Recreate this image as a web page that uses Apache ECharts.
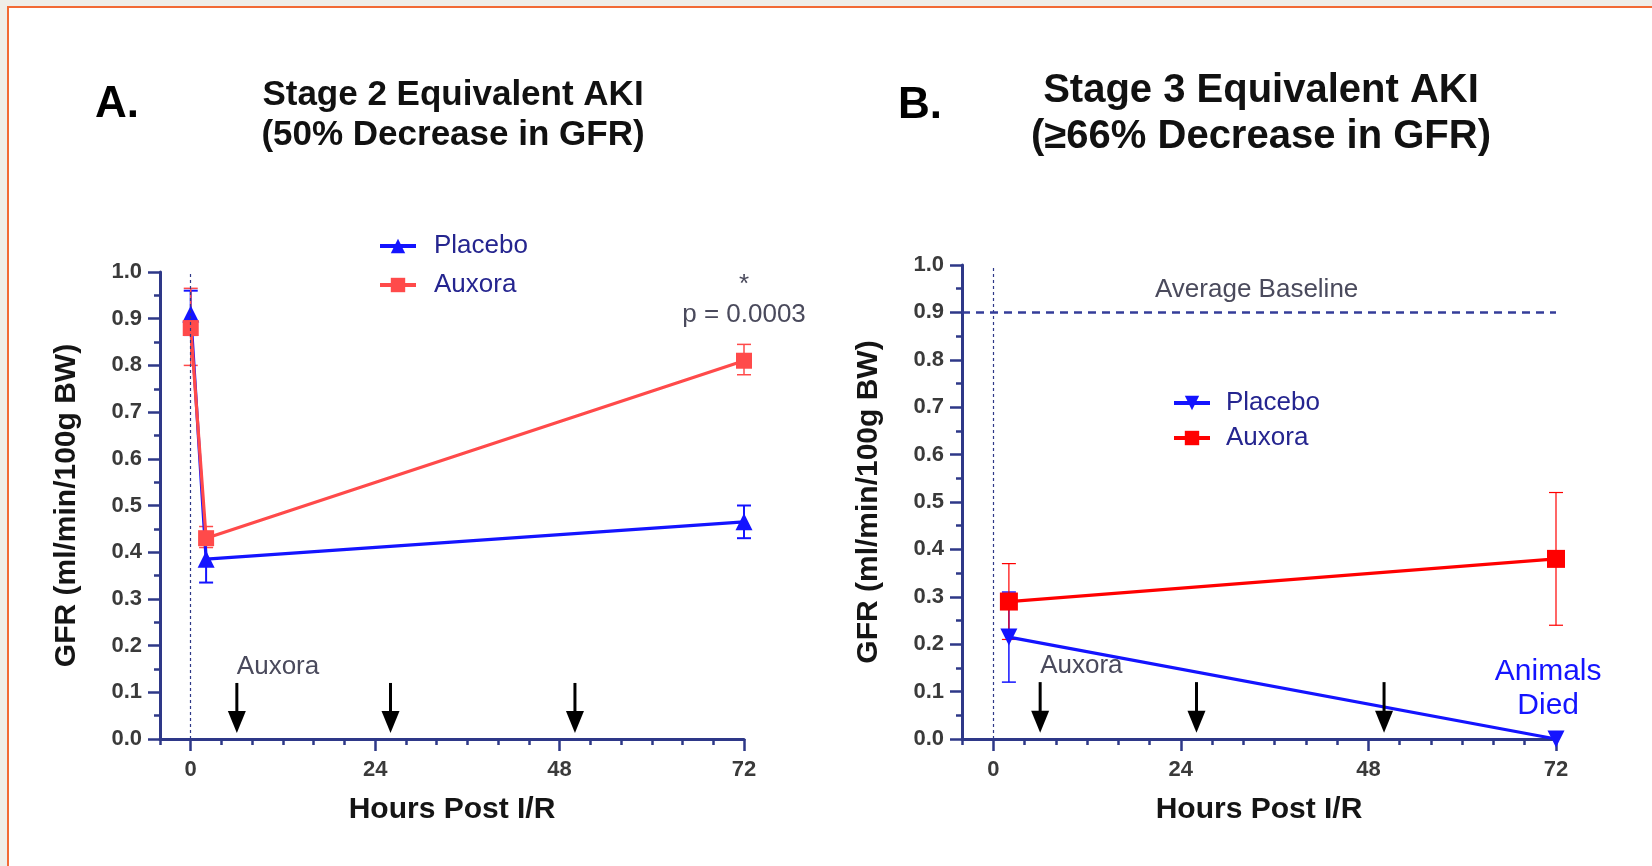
<!DOCTYPE html>
<html>
<head>
<meta charset="utf-8">
<title>GFR after I/R</title>
<script src="https://cdn.jsdelivr.net/npm/echarts@6/dist/echarts.min.js"></script>
<style>
  html, body { margin: 0; padding: 0; background: #efeee9; }
  #frame { position: absolute; left: 7px; top: 6px; width: 1645px; height: 860px; background: #fff;
           border-left: 2px solid #f26a35; border-top: 2px solid #f26a35; box-sizing: border-box; }
  #main { position: absolute; left: 0; top: 0; width: 1652px; height: 866px; }
</style>
</head>
<body>
<div id="frame"></div>
<div id="main"></div>
<script>
// panel A: stage 2 equivalent AKI
const hoursA = [0, 2, 72];
const placeboA = [0.91, 0.385, 0.465];
const placeboA_lo = [0.865, 0.335, 0.43];
const placeboA_hi = [0.96, 0.43, 0.50];
const auxoraA = [0.88, 0.43, 0.81];
const auxoraA_lo = [0.80, 0.41, 0.78];
const auxoraA_hi = [0.965, 0.455, 0.845];

// panel B: stage 3 equivalent AKI
const hoursB = [2, 72];
const placeboB = [0.215, 0];
const placeboB_lo = [0.12, null];
const placeboB_hi = [0.31, null];
const auxoraB = [0.29, 0.38];
const auxoraB_lo = [0.21, 0.24];
const auxoraB_hi = [0.37, 0.52];
const baselineB = 0.9;

// axes + dosing arrows
const xTicks = [0, 24, 48, 72];
const doseHours = [6, 26, 50];
const arrowTop = 0.12;
const arrowTip = 0.013;

// annotations (data coords)
const doseLabel = 'Auxora';
const doseLabelX = 6;
const doseLabelY = 0.155;
const pText = ['p = 0.0003', '*'];
const pX = [72, 72];
const pY = [0.909, 0.972];
const baseText = ['Average Baseline'];
const baseX = [33.7];
const baseY = [0.947];
const diedText = ['Animals\nDied'];
const diedX = [71];
const diedY = [0.105];

const FONT = '"Liberation Sans", Arial, sans-serif';
const AXIS = '#2e3888';
const BLUE = '#1414ff';
const RED_A = '#ff4a4a';
const RED_B = '#ff0000';
const NOTE = '#4a4a5c';

function pts(xs, ys) { return xs.map((x, i) => [x, ys[i]]); }
function bars(xs, lo, hi) {
  return xs.map((x, i) => [x, lo[i], hi[i]]).filter(d => d[1] != null);
}

function errorBar(color, width) {
  return function (params, api) {
    const x = api.value(0);
    const lo = api.coord([x, api.value(1)]);
    const hi = api.coord([x, api.value(2)]);
    const c = 7;
    const style = { stroke: color, lineWidth: width };
    return {
      type: 'group',
      children: [
        { type: 'line', shape: { x1: lo[0], y1: lo[1], x2: hi[0], y2: hi[1] }, style },
        { type: 'line', shape: { x1: lo[0] - c, y1: lo[1], x2: lo[0] + c, y2: lo[1] }, style },
        { type: 'line', shape: { x1: hi[0] - c, y1: hi[1], x2: hi[0] + c, y2: hi[1] }, style }
      ]
    };
  };
}

function arrowItem(params, api) {
  const top = api.coord([api.value(0), api.value(1)]);
  const tip = api.coord([api.value(0), api.value(2)]);
  const hw = 9, hh = 22;
  return {
    type: 'group',
    children: [
      { type: 'line', shape: { x1: top[0], y1: top[1], x2: tip[0], y2: tip[1] - hh + 2 },
        style: { stroke: '#000', lineWidth: 3 } },
      { type: 'polygon', shape: { points: [[tip[0] - hw, tip[1] - hh], [tip[0] + hw, tip[1] - hh], [tip[0], tip[1]]] },
        style: { fill: '#000' } }
    ]
  };
}

function noteSeries(xIdx, yIdx, xs, ys, texts, st) {
  return {
    type: 'custom', xAxisIndex: xIdx, yAxisIndex: yIdx, z: 6, silent: true,
    data: pts(xs, ys),
    renderItem: function (params, api) {
      const p = api.coord([api.value(0), api.value(1)]);
      return {
        type: 'text', x: p[0], y: p[1],
        style: {
          text: texts[params.dataIndex], fill: st.color, fontSize: st.size, fontFamily: FONT,
          fontWeight: st.weight || 'normal', lineHeight: st.lineHeight || st.size,
          align: st.align, verticalAlign: 'middle'
        }
      };
    }
  };
}

function arrowSeries(xIdx, yIdx) {
  return {
    type: 'custom', xAxisIndex: xIdx, yAxisIndex: yIdx, z: 5, silent: true,
    data: doseHours.map(h => [h, arrowTop, arrowTip]),
    renderItem: arrowItem
  };
}

function errSeries(xIdx, yIdx, xs, lo, hi, color, width) {
  return {
    type: 'custom', xAxisIndex: xIdx, yAxisIndex: yIdx, z: 2, silent: true,
    data: bars(xs, lo, hi), renderItem: errorBar(color, width)
  };
}

const tickLabel = { fontSize: 22, fontWeight: 'bold', color: '#3a3a3a', fontFamily: FONT };
const axisName = { fontSize: 30, fontWeight: 'bold', color: '#151515', fontFamily: FONT };

function mainX(grid) {
  return {
    gridIndex: grid, type: 'value', min: -4, max: 72, position: 'bottom',
    axisLine: { show: true, onZero: false, lineStyle: { color: AXIS, width: 3 } },
    axisTick: { show: true, customValues: xTicks, length: 12, lineStyle: { color: AXIS, width: 2.5 } },
    axisLabel: Object.assign({ customValues: xTicks, margin: 20 }, tickLabel),
    splitLine: { show: false },
    name: 'Hours Post I/R', nameLocation: 'middle', nameGap: 56, nameTextStyle: axisName
  };
}
function minorX(grid) {
  return {
    gridIndex: grid, type: 'value', min: -4, max: 72, interval: 4, position: 'bottom',
    axisLine: { show: false },
    axisTick: { show: true, length: 6, lineStyle: { color: AXIS, width: 2.5 } },
    axisLabel: { show: false }, splitLine: { show: false }
  };
}
function yAx(grid) {
  return {
    gridIndex: grid, type: 'value', min: 0, max: 1, interval: 0.1,
    axisLine: { show: true, onZero: false, lineStyle: { color: AXIS, width: 3 } },
    axisTick: { show: true, length: 12, lineStyle: { color: AXIS, width: 2.5 } },
    minorTick: { show: true, splitNumber: 2, length: 6, lineStyle: { color: AXIS, width: 2.5 } },
    axisLabel: Object.assign({ margin: 18, formatter: v => v.toFixed(1) }, tickLabel),
    splitLine: { show: false },
    name: 'GFR (ml/min/100g BW)', nameLocation: 'middle', nameGap: 78, nameTextStyle: axisName
  };
}

const option = {
  animation: false,
  title: [
    { text: 'A.', left: 90, top: 78, textStyle: { fontSize: 44, lineHeight: 44, fontWeight: 'bold', color: '#000', fontFamily: FONT } },
    { text: 'Stage 2 Equivalent AKI\n(50% Decrease in GFR)', left: 448, top: 70, textAlign: 'center',
      textStyle: { fontSize: 35, lineHeight: 40, fontWeight: 'bold', color: '#111', fontFamily: FONT } },
    { text: 'B.', left: 893, top: 79, textStyle: { fontSize: 44, lineHeight: 44, fontWeight: 'bold', color: '#000', fontFamily: FONT } },
    { text: 'Stage 3 Equivalent AKI\n(≥66% Decrease in GFR)', left: 1256, top: 63, textAlign: 'center',
      textStyle: { fontSize: 40, lineHeight: 46, fontWeight: 'bold', color: '#111', fontFamily: FONT } }
  ],
  legend: [
    { left: 373, top: 228, orient: 'vertical', data: ['Placebo', 'Auxora'], itemWidth: 36, itemHeight: 18, itemGap: 13,
      lineStyle: { width: 4 },
      textStyle: { fontSize: 26, lineHeight: 26, color: '#25258f', fontFamily: FONT, padding: [0, 0, 0, 13] } },
    { left: 1167, top: 385, orient: 'vertical', data: ['Placebo ', 'Auxora '], itemWidth: 36, itemHeight: 18, itemGap: 9,
      lineStyle: { width: 4 },
      textStyle: { fontSize: 26, lineHeight: 26, color: '#25258f', fontFamily: FONT, padding: [0, 0, 0, 11] } }
  ],
  grid: [
    { left: 160, top: 272, width: 584, height: 467 },
    { left: 962, top: 265, width: 594, height: 474 }
  ],
  xAxis: [mainX(0), minorX(0), mainX(1), minorX(1)],
  yAxis: [yAx(0), yAx(1)],
  series: [
    // panel A
    errSeries(0, 0, hoursA, placeboA_lo, placeboA_hi, BLUE, 2),
    errSeries(0, 0, hoursA, auxoraA_lo, auxoraA_hi, RED_A, 1.5),
    { type: 'line', name: 'Placebo', xAxisIndex: 0, yAxisIndex: 0, z: 3,
      data: pts(hoursA, placeboA), symbol: 'triangle', symbolSize: 17,
      itemStyle: { color: BLUE }, lineStyle: { color: BLUE, width: 3.2 },
      markLine: {
        silent: true, symbol: ['none', 'none'], label: { show: false }, animation: false,
        lineStyle: { color: AXIS, type: [3, 3], width: 1.2 },
        data: [{ xAxis: 0 }]
      } },
    { type: 'line', name: 'Auxora', xAxisIndex: 0, yAxisIndex: 0, z: 4,
      data: pts(hoursA, auxoraA), symbol: 'rect', symbolSize: 16,
      itemStyle: { color: RED_A }, lineStyle: { color: RED_A, width: 3.2 } },
    arrowSeries(0, 0),
    noteSeries(0, 0, [doseLabelX], [doseLabelY], [doseLabel], { color: NOTE, size: 26, align: 'left' }),
    noteSeries(0, 0, pX, pY, pText, { color: NOTE, size: 26, align: 'center' }),

    // panel B
    errSeries(2, 1, hoursB, placeboB_lo, placeboB_hi, BLUE, 1.5),
    errSeries(2, 1, hoursB, auxoraB_lo, auxoraB_hi, RED_B, 1.2),
    { type: 'line', name: 'Placebo ', xAxisIndex: 2, yAxisIndex: 1, z: 3,
      data: pts(hoursB, placeboB), symbol: 'triangle', symbolRotate: 180, symbolSize: 17,
      itemStyle: { color: BLUE }, lineStyle: { color: BLUE, width: 3.2 },
      markLine: {
        silent: true, symbol: ['none', 'none'], label: { show: false }, animation: false,
        data: [
          { xAxis: 0, lineStyle: { color: AXIS, type: [3, 3], width: 1.2 } },
          { yAxis: baselineB, lineStyle: { color: '#343d99', type: [8, 6], width: 2.5 } }
        ]
      } },
    { type: 'line', name: 'Auxora ', xAxisIndex: 2, yAxisIndex: 1, z: 4,
      data: pts(hoursB, auxoraB), symbol: 'rect', symbolSize: 18,
      itemStyle: { color: RED_B }, lineStyle: { color: RED_B, width: 3.2 } },
    arrowSeries(2, 1),
    noteSeries(2, 1, [doseLabelX], [doseLabelY], [doseLabel], { color: NOTE, size: 26, align: 'left' }),
    noteSeries(2, 1, baseX, baseY, baseText, { color: NOTE, size: 26, align: 'center' }),
    noteSeries(2, 1, diedX, diedY, diedText, { color: BLUE, size: 30, lineHeight: 34, align: 'center' })
  ]
};

const myChart = echarts.init(document.getElementById('main'), null, { renderer: 'canvas' });
myChart.setOption(option);
</script>
</body>
</html>
